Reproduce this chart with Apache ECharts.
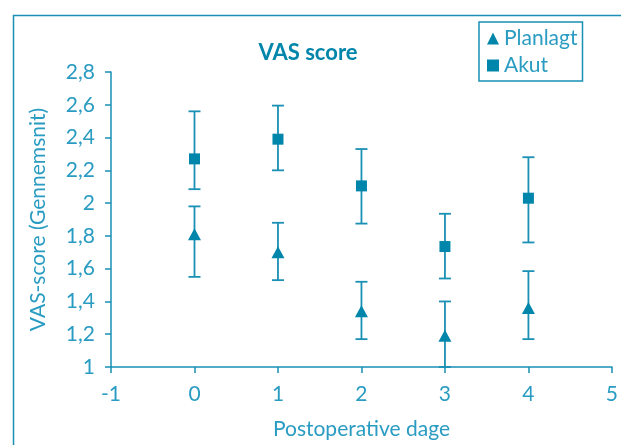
<!DOCTYPE html>
<html><head><meta charset="utf-8">
<script src="https://cdn.jsdelivr.net/npm/echarts@6/dist/echarts.min.js"></script>
<style>html,body{margin:0;padding:0;background:#fff}#c{width:621px;height:445px}</style>
</head><body><div id="c"></div>
<script>
var days = [0, 1, 2, 3, 4];
var planlagtMean = [1.81, 1.70, 1.34, 1.19, 1.36];
var planlagtLow  = [1.55, 1.53, 1.17, 1.00, 1.17];
var planlagtHigh = [1.98, 1.88, 1.52, 1.40, 1.585];
var akutMean = [2.27, 2.39, 2.105, 1.735, 2.03];
var akutLow  = [2.085, 2.20, 1.875, 1.54, 1.76];
var akutHigh = [2.56, 2.595, 2.33, 1.935, 2.28];
var yTickValues = [1, 1.2, 1.4, 1.6, 1.8, 2, 2.2, 2.4, 2.6, 2.8];
var yTickLabels = ['1', '1,2', '1,4', '1,6', '1,8', '2', '2,2', '2,4', '2,6', '2,8'];
var xTickLabels = ['-1', '0', '1', '2', '3', '4', '5'];

var dark = '#0086aa';
var axisCol = '#1a90b4';
var textCol = '#2a9cc2';
var FONT = 'Lato';

function pairs(xs, ys) { return xs.map(function (x, i) { return [x, ys[i]]; }); }
function errData(lo, hi) { return days.map(function (d, i) { return [d, lo[i], hi[i]]; }); }

function errRender(params, api) {
  var x = api.value(0);
  var p1 = api.coord([x, api.value(1)]);
  var p2 = api.coord([x, api.value(2)]);
  var hw = 6;
  var st = { stroke: axisCol, lineWidth: 1.8 };
  return {
    type: 'group',
    children: [
      { type: 'line', shape: { x1: p1[0], y1: p1[1], x2: p2[0], y2: p2[1] }, style: st },
      { type: 'line', shape: { x1: p1[0] - hw, y1: p1[1], x2: p1[0] + hw, y2: p1[1] }, style: st },
      { type: 'line', shape: { x1: p2[0] - hw, y1: p2[1], x2: p2[0] + hw, y2: p2[1] }, style: st }
    ]
  };
}

var chart = echarts.init(document.getElementById('c'), null, { renderer: 'canvas' });
chart.setOption({
  animation: false,
  backgroundColor: '#fff',
  textStyle: { fontFamily: FONT },
  graphic: [{
    type: 'rect', left: 11, top: 13, shape: { width: 700, height: 600 },
    style: { fill: 'none', stroke: axisCol, lineWidth: 1.5 }, silent: true, z: 0
  }],
  title: {
    text: 'VAS score', left: 303, top: 37, textAlign: 'center',
    textStyle: { fontFamily: FONT, fontWeight: 'bold', fontSize: 22, color: dark }
  },
  legend: {
    orient: 'vertical', left: 479, top: 22,
    borderColor: axisCol, borderWidth: 1.5, borderRadius: 0,
    padding: [6, 5, 5, 8], itemGap: 6, itemWidth: 12, itemHeight: 12,
    textStyle: { fontFamily: FONT, fontSize: 21, color: textCol },
    data: [{ name: 'Planlagt', icon: 'triangle' }, { name: 'Akut', icon: 'rect' }]
  },
  grid: { left: 111, right: 9, top: 72, bottom: 77 },
  xAxis: {
    type: 'value', min: -1, max: 5, interval: 1,
    name: 'Postoperative dage', nameLocation: 'middle', nameGap: 52,
    nameTextStyle: { fontFamily: FONT, fontSize: 21, color: textCol },
    axisLine: { onZero: false, lineStyle: { color: axisCol, width: 1.5 } },
    axisTick: { show: true, length: 6, lineStyle: { color: axisCol, width: 1.5 } },
    axisLabel: {
      margin: 17, fontSize: 21, color: textCol, fontFamily: FONT,
      formatter: function (v) { return xTickLabels[Math.round(v) + 1]; }
    },
    splitLine: { show: false }
  },
  yAxis: {
    type: 'value', min: 1, max: 2.8, interval: 0.2,
    name: 'VAS-score (Gennemsnit)', nameLocation: 'middle', nameGap: 62, nameRotate: 90,
    nameTextStyle: { fontFamily: FONT, fontSize: 21, color: textCol },
    axisLine: { show: true, onZero: false, lineStyle: { color: axisCol, width: 1.5 } },
    axisTick: { show: true, length: 6, lineStyle: { color: axisCol, width: 1.5 } },
    axisLabel: {
      margin: 16, fontSize: 21, color: textCol, fontFamily: FONT,
      formatter: function (v) {
        for (var i = 0; i < yTickValues.length; i++) {
          if (Math.abs(yTickValues[i] - v) < 1e-6) return yTickLabels[i];
        }
        return '';
      }
    },
    splitLine: { show: false }
  },
  series: [
    { name: 'errP', type: 'custom', renderItem: errRender, data: errData(planlagtLow, planlagtHigh), z: 2, silent: true },
    { name: 'errA', type: 'custom', renderItem: errRender, data: errData(akutLow, akutHigh), z: 2, silent: true },
    { name: 'Planlagt', type: 'scatter', symbol: 'triangle', symbolSize: [13, 12], data: pairs(days, planlagtMean), itemStyle: { color: dark, opacity: 1 }, z: 5 },
    { name: 'Akut', type: 'scatter', symbol: 'rect', symbolSize: 11, data: pairs(days, akutMean), itemStyle: { color: dark, opacity: 1 }, z: 5 }
  ]
});
</script></body></html>
